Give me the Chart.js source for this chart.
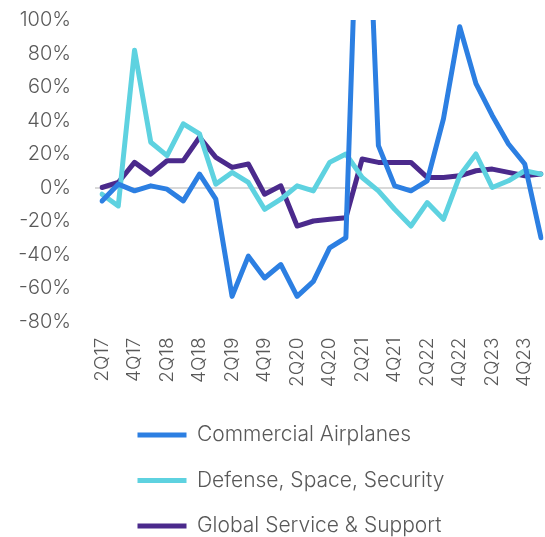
<!DOCTYPE html>
<html>
<head>
<meta charset="utf-8">
<script src="https://cdn.jsdelivr.net/npm/chart.js"></script>
<style>
  html, body { margin: 0; padding: 0; background: #ffffff; }
  #wrap { width: 545px; height: 537px; }
</style>
</head>
<body>
<div id="wrap"><canvas id="c" width="545" height="537"></canvas></div>
<script>
const quarters = ["2Q17","3Q17","4Q17","1Q18","2Q18","3Q18","4Q18","1Q19","2Q19","3Q19","4Q19","1Q20","2Q20","3Q20","4Q20","1Q21","2Q21","3Q21","4Q21","1Q22","2Q22","3Q22","4Q22","1Q23","2Q23","3Q23","4Q23","1Q24"];
const commercialAirplanes = [-8, 2, -2, 1, -1, -8, 8, -7, -65, -41, -54, -46, -65, -56, -36, -30, 260, 25, 1, -2, 4, 41, 96, 62, 43, 26, 14, -30];
const defenseSpaceSecurity = [-4, -11, 82, 27, 19, 38, 32, 2, 9, 3, -13, -7, 1, -2, 15, 20, 6, -2, -13, -23, -9, -19, 7, 20, 0, 4, 10, 8];
const globalServiceSupport = [0, 3, 15, 8, 16, 16, 30, 18, 12, 14, -4, 1, -23, -20, -19, -18, 17, 15, 15, 15, 6, 6, 7, 10, 11, 9, 7, 8];
const yTicks = [-80, -60, -40, -20, 0, 20, 40, 60, 80, 100];

const FONT = "Inter, 'Noto Sans', sans-serif";
const TEXT = '#595959';

function ds(label, data, color) {
  return {
    label, data,
    borderColor: color, backgroundColor: color,
    borderWidth: 5, pointRadius: 0, tension: 0,
    borderCapStyle: 'round', borderJoinStyle: 'round', fill: false
  };
}

const legendPlacer = {
  id: 'legendPlacer',
  afterLayout(chart) {
    const lg = chart.legend;
    if (!lg) return;
    lg.left = 113;
    lg.top = 400;
  }
};

new Chart(document.getElementById('c'), {
  type: 'line',
  data: {
    labels: quarters,
    datasets: [
      ds('Commercial Airplanes', commercialAirplanes, '#2c7fe2'),
      ds('Defense, Space, Security', defenseSpaceSecurity, '#5ed2e0'),
      ds('Global Service & Support', globalServiceSupport, '#4b2a8c')
    ]
  },
  options: {
    responsive: false,
    animation: false,
    devicePixelRatio: 1,
    layout: { padding: { left: 16, right: 4, top: 20, bottom: 0 } },
    plugins: {
      tooltip: { enabled: false },
      legend: {
        position: 'bottom',
        align: 'start',
        labels: {
          usePointStyle: true,
          pointStyle: 'line',
          pointStyleWidth: 49,
          padding: 24.5,
          color: TEXT,
          font: { family: FONT, size: 21, weight: 300 }
        }
      }
    },
    scales: {
      x: {
        offset: false,
        grid: { display: false, drawTicks: false },
        border: { display: false },
        ticks: {
          autoSkip: false,
          minRotation: 90,
          maxRotation: 90,
          padding: 16,
          color: TEXT,
          font: { family: FONT, size: 19, weight: 300 },
          callback: function(v, i) { return i % 2 === 0 ? quarters[i] : ''; }
        },
        afterFit: function(s) { s.height = 69; s.paddingLeft = 0; s.paddingRight = 0; }
      },
      y: {
        min: yTicks[0],
        max: yTicks[yTicks.length - 1],
        afterBuildTicks: function(s) { s.ticks = yTicks.map(v => ({ value: v })); },
        grid: {
          color: ctx => (ctx.tick && ctx.tick.value === 0) ? '#d9d9d9' : 'rgba(0,0,0,0)',
          lineWidth: 2,
          drawTicks: true,
          tickLength: 7
        },
        border: { display: false },
        ticks: {
          padding: 24,
          color: TEXT,
          font: { family: FONT, size: 20, weight: 300 },
          callback: v => v + '%'
        },
        afterFit: function(s) { s.width = 86; s.paddingTop = 0; s.paddingBottom = 0; }
      }
    }
  },
  plugins: [legendPlacer]
});
</script>
</body>
</html>
